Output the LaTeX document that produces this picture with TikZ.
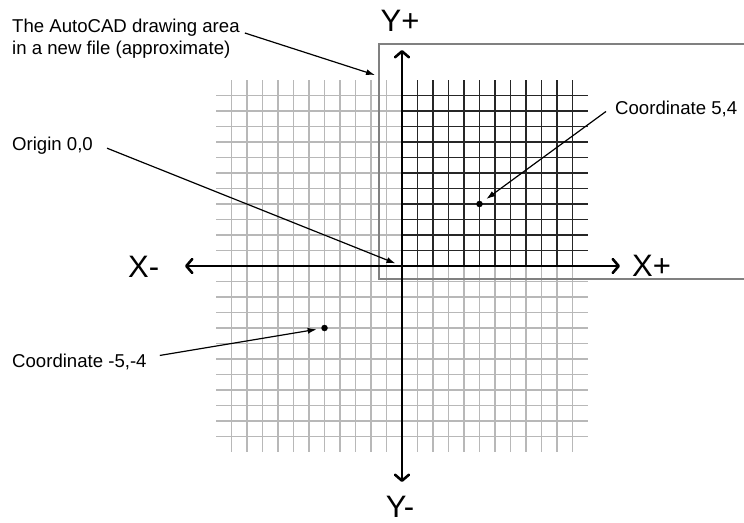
\documentclass[tikz,border=0pt]{standalone}
\usepackage{fontspec}
\setmainfont{Liberation Sans}
\usetikzlibrary{arrows.meta,calc}
\begin{document}
\begin{tikzpicture}[x=1pt,y=-1pt,
  lightgrid/.style={draw=black!28, line width=1.4pt},
  darkgrid/.style={draw=black!85, line width=1.2pt},
  areabox/.style={draw=black!50, line width=1.8pt},
  axis/.style={line width=2.6pt, {Straight Barb[length=6pt,width=14pt,round]}-{Straight Barb[length=6pt,width=14pt,round]}},
  callout/.style={line width=1.2pt, -{Latex[length=9pt,width=6pt]}},
  small/.style={font=\fontsize{18.6}{22}\selectfont, inner sep=0pt},
  big/.style={font=\fontsize{31}{36}\selectfont, inner sep=0pt},
  dot/.style={circle, fill=black, inner sep=0pt, minimum size=6.5pt},
]
\useasboundingbox (0,0) rectangle (744,522);
\fill[white] (0,0) rectangle (744,522);
\def\ox{402}
\def\oy{266}
\def\gs{15.5}
% light grid
\foreach \i in {-11,...,11} {
  \draw[lightgrid] ({\ox+\i*\gs},{\oy-12*\gs}) -- ({\ox+\i*\gs},{\oy+12*\gs});
  \draw[lightgrid] ({\ox-12*\gs},{\oy+\i*\gs}) -- ({\ox+12*\gs},{\oy+\i*\gs});
}
% dark quadrant
\foreach \i in {1,...,11} {
  \draw[darkgrid] ({\ox+\i*\gs},\oy) -- ({\ox+\i*\gs},{\oy-12*\gs});
  \draw[darkgrid] (\ox,{\oy-\i*\gs}) -- ({\ox+12*\gs},{\oy-\i*\gs});
}
% drawing area box
\draw[areabox] (744,44) -- (379,44) -- (379,279) -- (744,279);
% axes
\coordinate (O) at (\ox,\oy);
\coordinate (xl) at (185,\oy);
\coordinate (xr) at (620,\oy);
\coordinate (yt) at (\ox,50);
\coordinate (yb) at (\ox,482);
\draw[axis] (xl) -- (xr);
\draw[axis] (yb) -- (yt);
% axis labels
\node[big, anchor=base] (yplus) at (400,31) {Y+};
\node[big, anchor=base west] (xminus) at (128,277) {X-};
\node[big, anchor=base west] (xplus) at (632,276) {X+};
\node[big, anchor=base] (yminus) at (400,517) {Y-};
% points
\node[dot] (p54) at ({\ox+5*\gs},{\oy-4*\gs}) {};
\node[dot] (pm54) at ({\ox-5*\gs},{\oy+4*\gs}) {};
% labels
\node[small, anchor=base west] (area1) at (12,32) {The AutoCAD drawing area};
\node[small, anchor=base west] (area2) at (12,54) {in a new file (approximate)};
\node[small, anchor=base west] (orig) at (12,150) {Origin 0,0};
\node[small, anchor=base west] (c54) at (615,114) {Coordinate 5,4};
\node[small, anchor=base west] (cm54) at (12,367) {Coordinate -5,-4};
% callouts
\coordinate (areatip) at (375,75);
\draw[callout] ($(area1.base east)+(5,1)$) -- (areatip);
\draw[callout, shorten >=7pt] ($(orig.east)+(14,3)$) -- (O);
\draw[callout, shorten >=5pt] ($(c54.west)+(-9,3)$) -- (p54);
\draw[callout, shorten >=4.5pt] ($(cm54.east)+(13,-6)$) -- (pm54);
\end{tikzpicture}
\end{document}
